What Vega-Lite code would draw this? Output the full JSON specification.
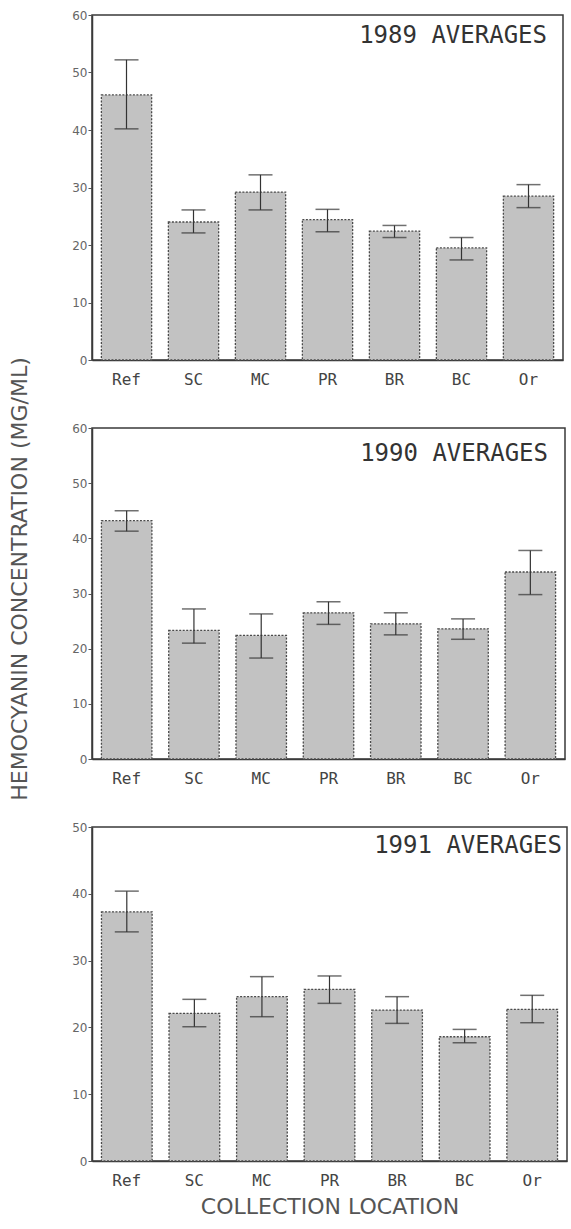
{
  "$schema": "https://vega.github.io/schema/vega-lite/v6.json",
  "background": "white",
  "padding": {"left": 8, "top": 8, "right": 2, "bottom": 8},
  "bounds": "flush",
  "spacing": 68,
  "title": {
    "text": "HEMOCYANIN CONCENTRATION (MG/ML)",
    "orient": "left",
    "anchor": "middle",
    "offset": 39,
    "dx": 34,
    "font": "DejaVu Sans",
    "fontSize": 22,
    "fontWeight": "normal",
    "color": "#555555"
  },
  "config": {
    "view": {"stroke": "#3a3a3a", "strokeWidth": 1.5},
    "axis": {
      "grid": false,
      "domainColor": "#3a3a3a",
      "domainWidth": 1.5
    },
    "axisY": {
      "title": null,
      "tickColor": "#555555",
      "tickSize": 4,
      "tickWidth": 1,
      "labelFont": "DejaVu Sans",
      "labelFontSize": 12,
      "labelColor": "#666666",
      "labelPadding": 1
    },
    "axisX": {
      "ticks": false,
      "labelAngle": 0,
      "labelFont": "DejaVu Sans Mono",
      "labelFontSize": 16,
      "labelColor": "#444444",
      "labelPadding": 11,
      "titleFont": "DejaVu Sans",
      "titleFontSize": 22,
      "titleFontWeight": "normal",
      "titleColor": "#555555",
      "titlePadding": 8
    }
  },
  "datasets": {
    "hemo": [
      {"year": 1989, "loc": "Ref", "mean": 46.1, "lo": 40.2, "hi": 52.2},
      {"year": 1989, "loc": "SC", "mean": 24.0, "lo": 22.1, "hi": 26.1},
      {"year": 1989, "loc": "MC", "mean": 29.2, "lo": 26.1, "hi": 32.2},
      {"year": 1989, "loc": "PR", "mean": 24.4, "lo": 22.3, "hi": 26.2},
      {"year": 1989, "loc": "BR", "mean": 22.4, "lo": 21.3, "hi": 23.4},
      {"year": 1989, "loc": "BC", "mean": 19.5, "lo": 17.4, "hi": 21.3},
      {"year": 1989, "loc": "Or", "mean": 28.5, "lo": 26.5, "hi": 30.5},
      {"year": 1990, "loc": "Ref", "mean": 43.2, "lo": 41.3, "hi": 45.0},
      {"year": 1990, "loc": "SC", "mean": 23.3, "lo": 21.0, "hi": 27.2},
      {"year": 1990, "loc": "MC", "mean": 22.4, "lo": 18.3, "hi": 26.3},
      {"year": 1990, "loc": "PR", "mean": 26.5, "lo": 24.4, "hi": 28.5},
      {"year": 1990, "loc": "BR", "mean": 24.5, "lo": 22.5, "hi": 26.5},
      {"year": 1990, "loc": "BC", "mean": 23.6, "lo": 21.7, "hi": 25.4},
      {"year": 1990, "loc": "Or", "mean": 33.9, "lo": 29.8, "hi": 37.8},
      {"year": 1991, "loc": "Ref", "mean": 37.3, "lo": 34.3, "hi": 40.4},
      {"year": 1991, "loc": "SC", "mean": 22.1, "lo": 20.1, "hi": 24.2},
      {"year": 1991, "loc": "MC", "mean": 24.6, "lo": 21.6, "hi": 27.6},
      {"year": 1991, "loc": "PR", "mean": 25.7, "lo": 23.6, "hi": 27.7},
      {"year": 1991, "loc": "BR", "mean": 22.6, "lo": 20.6, "hi": 24.6},
      {"year": 1991, "loc": "BC", "mean": 18.6, "lo": 17.7, "hi": 19.7},
      {"year": 1991, "loc": "Or", "mean": 22.7, "lo": 20.7, "hi": 24.8}
    ]
  },
  "data": {"name": "hemo"},
  "vconcat": [
    {
      "title": {"text": "1989 AVERAGES", "anchor": "end", "offset": -39, "dx": -16,
                "font": "DejaVu Sans Mono", "fontSize": 24, "fontWeight": "normal", "color": "#333333"},
      "width": 471,
      "height": 345,
      "transform": [{"filter": "datum.year == 1989"}],
      "encoding": {
        "x": {
          "field": "loc", "type": "nominal",
          "sort": ["Ref", "SC", "MC", "PR", "BR", "BC", "Or"],
          "scale": {"paddingInner": 0.25, "paddingOuter": 0.14},
          "axis": {"title": null}
        }
      },
      "layer": [
        {
          "mark": {"type": "bar", "fill": "#c2c2c2", "stroke": "#4a4a4a", "strokeWidth": 1.3, "strokeDash": [2, 1.5]},
          "encoding": {
            "y": {"field": "mean", "type": "quantitative",
                  "scale": {"domain": [0, 60]},
                  "axis": {"values": [0, 10, 20, 30, 40, 50, 60]}}
          }
        },
        {
          "mark": {"type": "rule", "color": "#333333", "strokeWidth": 1.2},
          "encoding": {
            "y": {"field": "lo", "type": "quantitative"},
            "y2": {"field": "hi"}
          }
        },
        {
          "mark": {"type": "tick", "size": 24, "thickness": 1.5, "color": "#333333"},
          "encoding": {"y": {"field": "hi", "type": "quantitative"}}
        },
        {
          "mark": {"type": "tick", "size": 24, "thickness": 1.5, "color": "#333333"},
          "encoding": {"y": {"field": "lo", "type": "quantitative"}}
        }
      ]
    },
    {
      "title": {"text": "1990 AVERAGES", "anchor": "end", "offset": -44, "dx": -17,
                "font": "DejaVu Sans Mono", "fontSize": 24, "fontWeight": "normal", "color": "#333333"},
      "width": 473,
      "height": 331,
      "transform": [{"filter": "datum.year == 1990"}],
      "encoding": {
        "x": {
          "field": "loc", "type": "nominal",
          "sort": ["Ref", "SC", "MC", "PR", "BR", "BC", "Or"],
          "scale": {"paddingInner": 0.25, "paddingOuter": 0.14},
          "axis": {"title": null}
        }
      },
      "layer": [
        {
          "mark": {"type": "bar", "fill": "#c2c2c2", "stroke": "#4a4a4a", "strokeWidth": 1.3, "strokeDash": [2, 1.5]},
          "encoding": {
            "y": {"field": "mean", "type": "quantitative",
                  "scale": {"domain": [0, 60]},
                  "axis": {"values": [0, 10, 20, 30, 40, 50, 60]}}
          }
        },
        {
          "mark": {"type": "rule", "color": "#333333", "strokeWidth": 1.2},
          "encoding": {
            "y": {"field": "lo", "type": "quantitative"},
            "y2": {"field": "hi"}
          }
        },
        {
          "mark": {"type": "tick", "size": 24, "thickness": 1.5, "color": "#333333"},
          "encoding": {"y": {"field": "hi", "type": "quantitative"}}
        },
        {
          "mark": {"type": "tick", "size": 24, "thickness": 1.5, "color": "#333333"},
          "encoding": {"y": {"field": "lo", "type": "quantitative"}}
        }
      ]
    },
    {
      "title": {"text": "1991 AVERAGES", "anchor": "end", "offset": -37, "dx": -5,
                "font": "DejaVu Sans Mono", "fontSize": 24, "fontWeight": "normal", "color": "#333333"},
      "width": 475,
      "height": 334,
      "transform": [{"filter": "datum.year == 1991"}],
      "encoding": {
        "x": {
          "field": "loc", "type": "nominal",
          "sort": ["Ref", "SC", "MC", "PR", "BR", "BC", "Or"],
          "scale": {"paddingInner": 0.25, "paddingOuter": 0.14},
          "axis": {"title": "COLLECTION LOCATION"}
        }
      },
      "layer": [
        {
          "mark": {"type": "bar", "fill": "#c2c2c2", "stroke": "#4a4a4a", "strokeWidth": 1.3, "strokeDash": [2, 1.5]},
          "encoding": {
            "y": {"field": "mean", "type": "quantitative",
                  "scale": {"domain": [0, 50]},
                  "axis": {"values": [0, 10, 20, 30, 40, 50]}}
          }
        },
        {
          "mark": {"type": "rule", "color": "#333333", "strokeWidth": 1.2},
          "encoding": {
            "y": {"field": "lo", "type": "quantitative"},
            "y2": {"field": "hi"}
          }
        },
        {
          "mark": {"type": "tick", "size": 24, "thickness": 1.5, "color": "#333333"},
          "encoding": {"y": {"field": "hi", "type": "quantitative"}}
        },
        {
          "mark": {"type": "tick", "size": 24, "thickness": 1.5, "color": "#333333"},
          "encoding": {"y": {"field": "lo", "type": "quantitative"}}
        }
      ]
    }
  ]
}
